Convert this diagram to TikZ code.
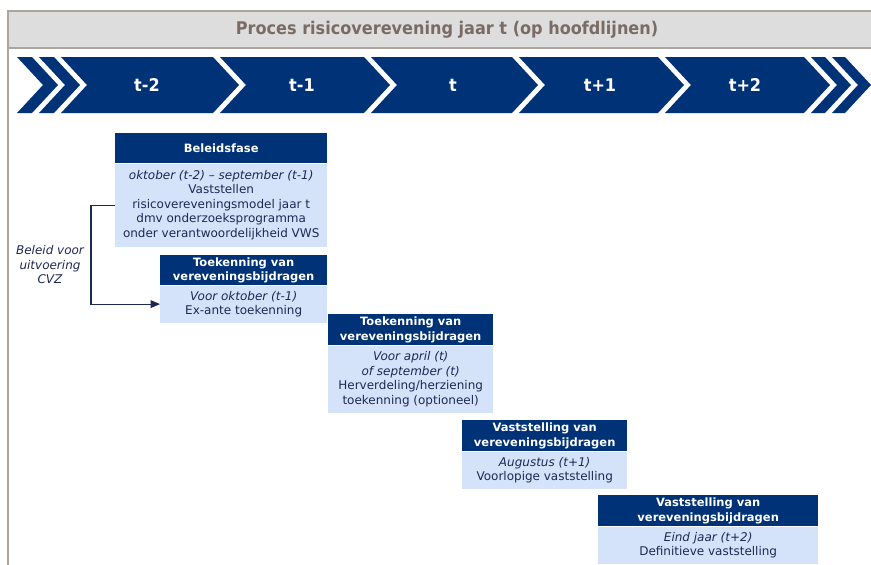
\documentclass[tikz,border=0pt]{standalone}
\usepackage{fontspec}
\setmainfont{DejaVu Sans}
\newfontfamily\titlefont[FakeStretch=0.92]{DejaVu Sans}
\usetikzlibrary{positioning}
\usetikzlibrary{arrows}
\definecolor{navy}{RGB}{0,50,120}
\definecolor{lightblue}{RGB}{213,227,250}
\definecolor{darktext}{RGB}{30,40,85}
\definecolor{titlegray}{RGB}{122,108,100}
\definecolor{bargray}{RGB}{221,221,221}
\definecolor{linegray}{RGB}{172,164,158}
\tikzset{boxhead/.style={rectangle, fill=navy, text=white, inner sep=0pt, align=center,
minimum height=30pt, font=\fontsize{11.5}{14.5}\selectfont\bfseries},
boxbody/.style={rectangle, fill=lightblue, text=darktext, inner sep=0pt, align=center,
font=\fontsize{12}{14.5}\selectfont},
chevron/.style={fill=navy},
chevlabel/.style={text=white, inner sep=0pt, font=\fontsize{17.5}{17.5}\titlefont\bfseries},
titletext/.style={text=titlegray, inner sep=0pt, font=\fontsize{17.5}{17.5}\titlefont\bfseries},
sidelabel/.style={text=darktext, inner sep=0pt, align=center, font=\fontsize{12}{14.5}\selectfont\itshape},
frameline/.style={draw=linegray, line width=1.6pt},
conn/.style={draw=darktext, line width=1.2pt},
>={triangle 45}}

\begin{document}
\begin{tikzpicture}[x=1pt,y=-1pt]
\useasboundingbox (0,0) rectangle (871,565);

% kop
\fill[bargray] (8,11) rectangle (871,48);
\draw[frameline] (871,11) -- (8,11) -- (8,565);
\draw[frameline] (8,48) -- (871,48);
\node[titletext] (titel) at (447,30) {Proces risicoverevening jaar t (op hoofdlijnen)};

% tijdbalk
\fill[chevron] (17,57) -- (32,57) -- (58,85) -- (32,113) -- (17,113) -- (43,85) -- cycle;
\fill[chevron] (39,57) -- (54,57) -- (80,85) -- (54,113) -- (39,113) -- (65,85) -- cycle;
\fill[chevron] (61,57) -- (213,57) -- (239,85) -- (213,113) -- (61,113) -- (87,85) -- cycle;
\fill[chevron] (220,57) -- (364,57) -- (390,85) -- (364,113) -- (220,113) -- (246,85) -- cycle;
\fill[chevron] (371,57) -- (512,57) -- (538,85) -- (512,113) -- (371,113) -- (397,85) -- cycle;
\fill[chevron] (519,57) -- (658,57) -- (684,85) -- (658,113) -- (519,113) -- (545,85) -- cycle;
\fill[chevron] (665,57) -- (804,57) -- (830,85) -- (804,113) -- (665,113) -- (691,85) -- cycle;
\fill[chevron] (811,57) -- (825,57) -- (851,85) -- (825,113) -- (811,113) -- (837,85) -- cycle;
\fill[chevron] (832,57) -- (845,57) -- (871,85) -- (845,113) -- (832,113) -- (858,85) -- cycle;
\node[chevlabel] (jtm2) at (147,85) {t-2};
\node[chevlabel] (jtm1) at (302,85) {t-1};
\node[chevlabel] (jt) at (453,85) {t};
\node[chevlabel] (jtp1) at (600,85) {t+1};
\node[chevlabel] (jtp2) at (745,85) {t+2};

% fasen
\node[boxhead, minimum width=212pt, anchor=north west] (beleid) at (115,133) {Beleidsfase};
\node[boxbody, minimum width=212pt, minimum height=83pt, below=0pt of beleid] (beleidtxt)
  {\textit{oktober (t-2) – september (t-1)}\\Vaststellen\\risicovereveningsmodel jaar t\\dmv onderzoeksprogramma\\onder verantwoordelijkheid VWS};

\node[boxhead, minimum width=167pt, anchor=north west] (toek1) at (160,255) {Toekenning van\\vereveningsbijdragen};
\node[boxbody, minimum width=167pt, minimum height=37pt, below=0pt of toek1] (toek1txt)
  {\textit{Voor oktober (t-1)}\\Ex-ante toekenning};

\node[boxhead, minimum width=165pt, minimum height=31pt, anchor=north west] (toek2) at (328,314) {Toekenning van\\vereveningsbijdragen};
\node[boxbody, minimum width=165pt, minimum height=67pt, below=0pt of toek2] (toek2txt)
  {\textit{Voor april (t)}\\\textit{of september (t)}\\Herverdeling/herziening\\toekenning (optioneel)};

\node[boxhead, minimum width=165pt, minimum height=31pt, anchor=north west] (vast1) at (462,420) {Vaststelling van\\vereveningsbijdragen};
\node[boxbody, minimum width=165pt, minimum height=37pt, below=0pt of vast1] (vast1txt)
  {\textit{Augustus (t+1)}\\Voorlopige vaststelling};

\node[boxhead, minimum width=220pt, minimum height=31pt, anchor=north west] (vast2) at (598,495) {Vaststelling van\\vereveningsbijdragen};
\node[boxbody, minimum width=220pt, minimum height=37pt, below=0pt of vast2] (vast2txt)
  {\textit{Eind jaar (t+2)}\\Definitieve vaststelling};

% beleid CVZ
\node[sidelabel] (cvz) at (50,265) {Beleid voor\\uitvoering\\CVZ};
\draw[conn,->]
(beleidtxt.west) -- ++(-24,0) |-
(toek1txt.west);
\end{tikzpicture}
\end{document}
